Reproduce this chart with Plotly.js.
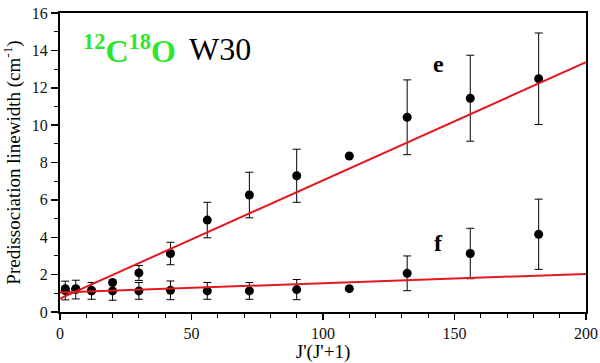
<!DOCTYPE html>
<html>
<head>
<meta charset="utf-8">
<script src="https://cdn.plot.ly/plotly-3.0.1.min.js"></script>
<style>html,body{margin:0;padding:0;background:#fff;}#chart{width:600px;height:363px;}</style>
</head>
<body>
<div id="chart"></div>
<script>
// J'(J'+1) values
const jj = [2, 6, 12, 20, 30, 42, 56, 72, 90, 110, 132, 156, 182];
// e-parity predissociation linewidths (cm^-1)
const eWidth = [1.25, 1.25, 1.16, 1.58, 2.09, 3.13, 4.92, 6.26, 7.29, 8.35, 10.42, 11.44, 12.48];
const eErr   = [0, 0, 0, 0, 0.4, 0.6, 0.95, 1.22, 1.42, 0, 2.0, 2.3, 2.45];
// f-parity predissociation linewidths (cm^-1)
const fWidth = [1.15, 1.2, 1.13, 1.13, 1.13, 1.16, 1.13, 1.13, 1.2, 1.25, 2.07, 3.13, 4.16];
const fErr   = [0.5, 0.5, 0.45, 0.5, 0.45, 0.5, 0.45, 0.45, 0.54, 0, 0.93, 1.35, 1.88];
// linear fits
const fitX  = [0, 200];
const eFitY = [0.72, 13.37];
const fFitY = [1.04, 2.04];

const serif = "'Liberation Serif', 'Times New Roman', Tinos, serif";
const red = "#e3191f";

const pts = (y, err) => ({
  x: jj, y: y, type: "scatter", mode: "markers",
  marker: {color: "#000", size: 9},
  error_y: {type: "data", array: err, visible: true, color: "#000", thickness: 1, width: 4},
  showlegend: false, hoverinfo: "x+y"
});
const fit = (y) => ({
  x: fitX, y: y, type: "scatter", mode: "lines",
  line: {color: red, width: 2}, showlegend: false, hoverinfo: "skip"
});

const data = [pts(eWidth, eErr), pts(fWidth, fErr), fit(eFitY), fit(fFitY)];

const axisCommon = {
  showline: true, linecolor: "#000", linewidth: 2, mirror: true,
  ticks: "outside", tickcolor: "#000", tickwidth: 1.5,
  showgrid: false, zeroline: false,
  tickfont: {family: serif, size: 16, color: "#111"}
};

const layout = {
  width: 600, height: 363,
  margin: {l: 60, r: 14, t: 13, b: 51},
  paper_bgcolor: "#fff", plot_bgcolor: "#fff",
  font: {family: serif},
  xaxis: Object.assign({}, axisCommon, {
    range: [0, 200], dtick: 50, ticklen: 6,
    minor: {dtick: 10, ticks: "outside", ticklen: 4, tickcolor: "#000", tickwidth: 1},
    title: {text: "J'(J'+1)", font: {family: serif, size: 19, color: "#000"}, standoff: 6}
  }),
  yaxis: Object.assign({}, axisCommon, {
    range: [0, 16], dtick: 2, ticklen: 7,
    minor: {dtick: 1, ticks: "outside", ticklen: 4, tickcolor: "#000", tickwidth: 1},
    title: {text: "Predissociation linewidth (cm<sup>-1</sup>)", font: {family: serif, size: 19, color: "#000"}, standoff: 8}
  }),
  annotations: [
    {xref: "x", yref: "y", x: 7.9, y: 14.05, xanchor: "left", yanchor: "middle", showarrow: false,
     text: "<b><sup>12</sup>C<sup>18</sup>O</b>", font: {family: serif, size: 32, color: "#2ee62e"}},
    {xref: "x", yref: "y", x: 48.2, y: 14.05, xanchor: "left", yanchor: "middle", showarrow: false,
     text: "W30", font: {family: serif, size: 32, color: "#000"}},
    {xref: "x", yref: "y", x: 144, y: 13.25, xanchor: "center", yanchor: "middle", showarrow: false,
     text: "<b>e</b>", font: {family: serif, size: 24, color: "#000"}},
    {xref: "x", yref: "y", x: 144, y: 3.7, xanchor: "center", yanchor: "middle", showarrow: false,
     text: "<b>f</b>", font: {family: serif, size: 24, color: "#000"}}
  ]
};

Plotly.newPlot("chart", data, layout, {displayModeBar: false, staticPlot: true});
</script>
</body>
</html>
